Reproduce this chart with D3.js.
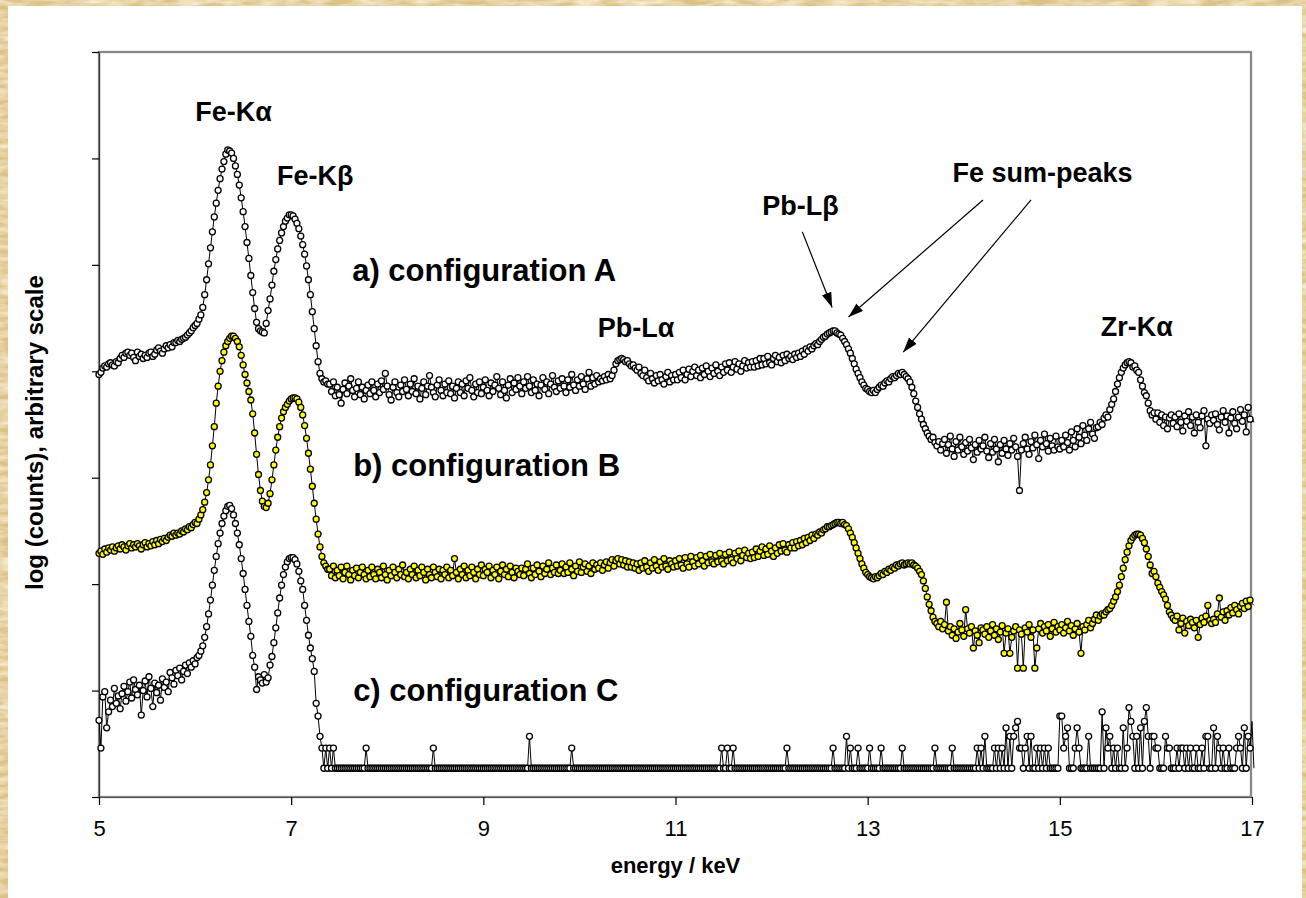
<!DOCTYPE html>
<html>
<head>
<meta charset="utf-8">
<script src="https://cdn.jsdelivr.net/npm/d3@7"></script>
<style>
  html, body { margin: 0; padding: 0; background: #e0c68c; }
  svg { display: block; }
  text { font-family: Arial, "Liberation Sans", sans-serif; }
</style>
</head>
<body>
<svg id="chart" width="1306" height="898"></svg>
<script>
// Channel calibration of the three spectra (keV)
const E_START = 5.0;
const E_STEP = 0.02;

// a) configuration A, log(counts) on an arbitrary offset scale
const seriesA = [
3.97,3.99,4.03,4.05,4.04,4.07,4.08,4.06,4.05,4.09,4.08,4.12,4.15,4.13,4.17,4.18,4.15,4.17,4.13,4.10,
4.18,4.14,4.16,4.12,4.15,4.13,4.17,4.18,4.14,4.16,4.20,4.22,4.19,4.17,4.21,4.24,4.22,4.25,4.23,4.27,
4.27,4.29,4.28,4.30,4.31,4.32,4.34,4.36,4.38,4.41,4.43,4.45,4.49,4.53,4.60,4.72,4.86,5.01,5.16,5.31,
5.45,5.58,5.70,5.81,5.90,5.97,6.04,6.08,6.07,6.05,6.00,5.93,5.85,5.75,5.63,5.50,5.36,5.21,5.06,4.90,
4.74,4.59,4.46,4.40,4.38,4.37,4.36,4.45,4.57,4.68,4.81,4.94,5.05,5.15,5.23,5.30,5.36,5.41,5.44,5.47,
5.47,5.46,5.43,5.39,5.34,5.27,5.19,5.10,4.99,4.86,4.72,4.56,4.40,4.24,4.09,3.98,3.93,3.90,3.91,3.88,
3.88,3.81,3.90,3.77,3.85,3.78,3.70,3.83,3.89,3.79,3.86,3.93,3.82,3.76,3.84,3.90,3.78,3.85,3.74,3.82,
3.87,3.79,3.90,3.82,3.76,3.88,3.80,3.91,3.83,3.98,3.86,3.78,3.73,3.85,3.90,3.80,3.76,3.87,3.81,3.92,
3.83,3.77,3.88,3.81,3.93,3.79,3.86,3.74,3.84,3.90,3.78,3.86,3.96,3.85,3.80,3.76,3.87,3.92,3.82,3.77,
3.88,3.80,3.91,3.79,3.86,3.75,3.84,3.90,3.80,3.88,3.77,3.91,3.84,3.94,3.82,3.76,3.88,3.80,3.90,3.79,
3.85,3.92,3.82,3.77,3.89,3.81,3.87,3.95,3.84,3.78,3.90,3.82,3.75,3.87,3.93,3.80,3.89,3.83,3.94,3.86,
3.79,3.90,3.84,3.95,3.86,3.80,3.92,3.82,3.88,3.77,3.87,3.94,3.83,3.90,3.79,3.88,3.96,3.85,3.81,3.91,
3.84,3.93,3.86,3.80,3.92,3.85,3.97,3.87,3.82,3.92,3.86,3.95,3.88,3.83,3.93,3.99,3.86,3.94,3.88,3.96,
3.90,3.93,3.91,3.95,3.92,3.97,3.93,3.96,4.01,4.07,4.10,4.11,4.12,4.11,4.09,4.10,4.07,4.05,4.06,4.03,
4.01,4.04,3.98,3.96,4.01,3.94,3.91,3.98,3.93,3.89,3.96,3.91,3.97,3.92,3.88,3.95,3.99,3.90,3.96,3.92,
3.97,3.92,3.99,3.94,4.01,3.92,3.97,4.02,3.95,4.00,4.04,3.96,4.01,3.94,4.03,3.97,4.05,4.00,3.95,4.03,
3.98,4.06,4.00,3.96,4.04,3.99,4.07,4.01,4.08,3.99,4.04,4.09,4.02,4.07,4.00,4.05,4.10,4.03,4.08,4.04,
4.09,4.04,4.10,4.05,4.12,4.06,4.12,4.07,4.14,4.08,4.06,4.12,4.15,4.09,4.13,4.08,4.15,4.10,4.16,4.12,
4.14,4.11,4.16,4.13,4.17,4.14,4.19,4.16,4.21,4.19,4.23,4.21,4.24,4.26,4.25,4.28,4.30,4.32,4.33,4.35,
4.36,4.37,4.38,4.38,4.36,4.35,4.34,4.31,4.28,4.25,4.21,4.17,4.12,4.07,4.02,3.98,3.94,3.90,3.87,3.84,
3.83,3.81,3.80,3.82,3.80,3.83,3.85,3.87,3.86,3.89,3.91,3.90,3.93,3.95,3.94,3.96,3.98,3.97,3.99,3.97,
3.95,3.93,3.90,3.85,3.79,3.72,3.66,3.60,3.55,3.50,3.46,3.42,3.39,3.36,3.38,3.33,3.30,3.34,3.26,3.32,
3.36,3.23,3.31,3.39,3.27,3.20,3.34,3.26,3.38,3.29,3.22,3.33,3.25,3.36,3.28,3.17,3.31,3.24,3.35,3.27,
3.30,3.38,3.25,3.19,3.32,3.24,3.36,3.27,3.15,3.31,3.23,3.35,3.27,3.21,3.32,3.26,3.37,3.29,3.20,2.88,
3.26,3.32,3.38,3.27,3.22,3.34,3.28,3.40,3.31,3.18,3.35,3.29,3.41,3.32,3.25,3.37,3.30,3.26,3.39,3.29,
3.27,3.35,3.29,3.40,3.33,3.26,3.43,3.35,3.29,3.46,3.38,3.32,3.49,3.40,3.35,3.46,3.52,3.41,3.37,3.47,
3.48,3.52,3.50,3.56,3.59,3.57,3.64,3.69,3.74,3.81,3.88,3.94,3.99,4.03,4.06,4.08,4.09,4.08,4.04,4.05,
4.01,3.99,3.92,3.86,3.80,3.77,3.70,3.63,3.59,3.61,3.55,3.61,3.52,3.59,3.49,3.57,3.46,3.56,3.59,3.51,
3.57,3.48,3.60,3.52,3.44,3.58,3.53,3.62,3.49,3.57,3.42,3.59,3.52,3.47,3.58,3.63,3.30,3.55,3.51,3.59,
3.54,3.60,3.50,3.45,3.57,3.63,3.52,3.58,3.42,3.56,3.62,3.51,3.46,3.57,3.64,3.53,3.59,3.43,3.66,3.55,
3.57,3.52
];

// b) configuration B
const seriesB = [
2.29,2.31,2.28,2.33,2.30,2.34,2.32,2.35,2.31,2.34,2.36,2.33,2.37,2.35,2.32,2.36,2.38,2.34,2.37,2.35,
2.38,2.36,2.33,2.37,2.39,2.35,2.38,2.36,2.40,2.37,2.41,2.38,2.42,2.40,2.43,2.41,2.44,2.46,2.45,2.48,
2.46,2.48,2.47,2.50,2.49,2.52,2.51,2.54,2.53,2.56,2.58,2.57,2.61,2.65,2.70,2.77,2.86,2.98,3.12,3.30,
3.48,3.70,3.86,4.00,4.10,4.18,4.24,4.28,4.31,4.33,4.33,4.31,4.28,4.23,4.15,4.06,3.97,3.89,3.81,3.73,
3.60,3.42,3.22,3.03,2.88,2.78,2.73,2.72,2.76,2.85,2.98,3.12,3.26,3.38,3.48,3.56,3.62,3.66,3.69,3.72,
3.74,3.75,3.75,3.74,3.71,3.66,3.59,3.49,3.37,3.23,3.08,2.92,2.76,2.61,2.47,2.35,2.26,2.20,2.17,2.14,
2.14,2.08,2.17,2.06,2.13,2.08,2.16,2.05,2.11,2.17,2.09,2.04,2.13,2.08,2.15,2.06,2.11,2.16,2.09,2.05,
2.13,2.07,2.16,2.09,2.05,2.14,2.11,2.06,2.17,2.09,2.04,2.13,2.08,2.16,2.11,2.06,2.14,2.09,2.18,2.07,
2.11,2.05,2.14,2.09,2.17,2.06,2.13,2.08,2.16,2.11,2.04,2.14,2.09,2.06,2.16,2.11,2.07,2.14,2.05,2.13,
2.09,2.16,2.06,2.13,2.08,2.24,2.11,2.05,2.14,2.09,2.17,2.06,2.13,2.08,2.16,2.11,2.05,2.14,2.09,2.18,
2.08,2.14,2.11,2.17,2.06,2.13,2.09,2.16,2.05,2.12,2.18,2.09,2.14,2.07,2.17,2.11,2.06,2.15,2.12,2.09,
2.15,2.08,2.14,2.19,2.10,2.06,2.15,2.09,2.18,2.12,2.07,2.17,2.10,2.14,2.20,2.09,2.15,2.11,2.18,2.10,
2.13,2.19,2.10,2.16,2.11,2.20,2.14,2.08,2.17,2.12,2.21,2.11,2.16,2.19,2.12,2.17,2.10,2.20,2.14,2.18,
2.15,2.20,2.13,2.18,2.21,2.15,2.20,2.23,2.17,2.22,2.24,2.19,2.23,2.18,2.22,2.16,2.21,2.16,2.20,2.15,
2.19,2.13,2.20,2.15,2.22,2.16,2.12,2.20,2.15,2.23,2.17,2.13,2.21,2.16,2.24,2.17,2.14,2.22,2.19,2.16,
2.22,2.17,2.24,2.18,2.15,2.25,2.19,2.16,2.26,2.21,2.17,2.25,2.19,2.27,2.22,2.17,2.26,2.20,2.28,2.21,
2.19,2.27,2.21,2.29,2.22,2.19,2.28,2.22,2.30,2.23,2.20,2.29,2.24,2.31,2.22,2.27,2.32,2.25,2.29,2.24,
2.30,2.25,2.33,2.26,2.31,2.35,2.27,2.33,2.28,2.36,2.31,2.26,2.34,2.29,2.37,2.31,2.38,2.32,2.30,2.37,
2.34,2.39,2.34,2.40,2.36,2.41,2.37,2.43,2.39,2.44,2.41,2.46,2.43,2.47,2.46,2.49,2.48,2.51,2.52,2.54,
2.54,2.55,2.56,2.57,2.58,2.58,2.57,2.58,2.56,2.55,2.52,2.48,2.44,2.39,2.34,2.29,2.24,2.19,2.15,2.11,
2.09,2.07,2.06,2.05,2.07,2.06,2.08,2.10,2.09,2.12,2.11,2.14,2.13,2.16,2.15,2.18,2.17,2.19,2.20,2.18,
2.19,2.20,2.19,2.20,2.18,2.17,2.15,2.12,2.09,2.03,1.96,1.88,1.81,1.75,1.69,1.65,1.63,1.60,1.65,1.58,
1.62,1.83,1.56,1.60,1.52,1.58,1.49,1.55,1.63,1.57,1.51,1.76,1.58,1.54,1.60,1.40,1.56,1.52,1.45,1.59,
1.57,1.53,1.60,1.50,1.56,1.62,1.52,1.58,1.48,1.55,1.61,1.35,1.54,1.58,1.35,1.50,1.56,1.60,1.21,1.57,
1.53,1.21,1.59,1.55,1.62,1.50,1.57,1.21,1.40,1.58,1.63,1.54,1.60,1.56,1.62,1.51,1.58,1.64,1.55,1.60,
1.57,1.62,1.54,1.59,1.65,1.56,1.61,1.52,1.58,1.63,1.55,1.35,1.60,1.57,1.62,1.66,1.59,1.63,1.67,1.71,
1.66,1.70,1.72,1.71,1.74,1.76,1.77,1.80,1.84,1.88,1.93,1.99,2.07,2.15,2.23,2.30,2.36,2.41,2.44,2.46,
2.47,2.47,2.46,2.43,2.39,2.33,2.26,2.18,2.10,2.12,2.07,2.01,1.97,1.93,1.90,1.86,1.80,1.74,1.71,1.68,
1.66,1.70,1.57,1.63,1.68,1.54,1.65,1.61,1.67,1.64,1.59,1.66,1.50,1.62,1.68,1.64,1.70,1.80,1.66,1.63,
1.67,1.64,1.72,1.87,1.69,1.74,1.66,1.75,1.71,1.78,1.73,1.80,1.76,1.72,1.79,1.82,1.77,1.84,1.79,1.85,
1.82,1.80
];

// c) configuration C
const seriesC = [
0.72,0.46,0.94,0.99,0.65,0.80,0.91,0.85,1.02,0.88,0.95,0.83,0.97,1.04,0.90,0.99,1.08,0.93,1.10,1.01,
0.96,1.05,0.77,1.00,1.09,0.94,1.13,1.02,0.85,1.07,0.98,1.05,0.91,1.11,1.03,1.08,0.99,1.17,1.12,1.06,
1.19,1.14,1.21,1.10,1.18,1.24,1.16,1.26,1.22,1.28,1.25,1.31,1.33,1.37,1.42,1.50,1.60,1.72,1.85,1.99,
2.13,2.26,2.38,2.48,2.57,2.64,2.69,2.73,2.74,2.71,2.65,2.57,2.48,2.37,2.24,2.10,1.95,1.80,1.65,1.51,
1.33,1.22,1.01,1.13,1.10,1.07,1.15,1.08,1.12,1.24,1.32,1.45,1.59,1.73,1.87,1.99,2.09,2.16,2.21,2.24,
2.25,2.25,2.23,2.19,2.12,2.03,1.95,1.80,1.66,1.52,1.40,1.30,1.18,0.88,0.76,0.57,0.46,0.27,0.46,0.27,
0.46,0.27,0.46,0.27,0.27,0.27,0.27,0.27,0.27,0.27,0.27,0.27,0.27,0.27,0.27,0.27,0.27,0.27,0.27,0.46,
0.27,0.27,0.27,0.27,0.27,0.27,0.27,0.27,0.27,0.27,0.27,0.27,0.27,0.27,0.27,0.27,0.27,0.27,0.27,0.27,
0.27,0.27,0.27,0.27,0.27,0.27,0.27,0.27,0.27,0.27,0.27,0.27,0.27,0.27,0.46,0.27,0.27,0.27,0.27,0.27,
0.27,0.27,0.27,0.27,0.27,0.27,0.27,0.27,0.27,0.27,0.27,0.27,0.27,0.27,0.27,0.27,0.27,0.27,0.27,0.27,
0.27,0.27,0.27,0.27,0.27,0.27,0.27,0.27,0.27,0.27,0.27,0.27,0.27,0.27,0.27,0.27,0.27,0.27,0.27,0.27,
0.27,0.27,0.27,0.27,0.57,0.27,0.27,0.27,0.27,0.27,0.27,0.27,0.27,0.27,0.27,0.27,0.27,0.27,0.27,0.27,
0.27,0.27,0.27,0.27,0.27,0.27,0.46,0.27,0.27,0.27,0.27,0.27,0.27,0.27,0.27,0.27,0.27,0.27,0.27,0.27,
0.27,0.27,0.27,0.27,0.27,0.27,0.27,0.27,0.27,0.27,0.27,0.27,0.27,0.27,0.27,0.27,0.27,0.27,0.27,0.27,
0.27,0.27,0.27,0.27,0.27,0.27,0.27,0.27,0.27,0.27,0.27,0.27,0.27,0.27,0.27,0.27,0.27,0.27,0.27,0.27,
0.27,0.27,0.27,0.27,0.27,0.27,0.27,0.27,0.27,0.27,0.27,0.27,0.27,0.27,0.27,0.27,0.27,0.27,0.27,0.27,
0.27,0.27,0.27,0.27,0.46,0.27,0.27,0.46,0.27,0.27,0.46,0.27,0.27,0.27,0.27,0.27,0.27,0.27,0.27,0.27,
0.27,0.27,0.27,0.27,0.27,0.27,0.27,0.27,0.27,0.27,0.27,0.27,0.27,0.27,0.27,0.27,0.27,0.27,0.46,0.27,
0.27,0.27,0.27,0.27,0.27,0.27,0.27,0.27,0.27,0.27,0.27,0.27,0.27,0.27,0.27,0.27,0.27,0.27,0.27,0.27,
0.27,0.27,0.46,0.27,0.27,0.27,0.27,0.27,0.27,0.57,0.27,0.46,0.27,0.27,0.27,0.46,0.27,0.27,0.27,0.27,
0.27,0.46,0.27,0.27,0.27,0.27,0.27,0.46,0.27,0.27,0.27,0.27,0.27,0.27,0.27,0.27,0.27,0.27,0.46,0.27,
0.27,0.27,0.27,0.27,0.27,0.27,0.27,0.27,0.27,0.27,0.27,0.27,0.27,0.27,0.27,0.46,0.27,0.27,0.27,0.27,
0.27,0.27,0.27,0.27,0.46,0.27,0.27,0.27,0.27,0.27,0.27,0.27,0.27,0.27,0.27,0.27,0.27,0.46,0.27,0.46,
0.27,0.57,0.27,0.27,0.27,0.27,0.46,0.27,0.46,0.27,0.46,0.27,0.65,0.27,0.57,0.27,0.57,0.65,0.71,0.46,
0.46,0.27,0.46,0.57,0.27,0.57,0.27,0.27,0.46,0.27,0.46,0.27,0.46,0.27,0.46,0.27,0.27,0.27,0.27,0.27,
0.76,0.76,0.46,0.57,0.65,0.27,0.27,0.27,0.46,0.65,0.46,0.27,0.27,0.27,0.27,0.57,0.27,0.27,0.27,0.27,
0.27,0.27,0.80,0.27,0.65,0.46,0.57,0.27,0.46,0.27,0.46,0.27,0.27,0.65,0.27,0.46,0.84,0.71,0.57,0.27,
0.57,0.27,0.65,0.27,0.71,0.84,0.57,0.27,0.57,0.57,0.46,0.46,0.27,0.27,0.27,0.57,0.46,0.46,0.27,0.27,
0.27,0.46,0.27,0.46,0.46,0.27,0.46,0.27,0.46,0.27,0.27,0.46,0.27,0.27,0.46,0.27,0.57,0.57,0.27,0.27,
0.65,0.27,0.57,0.46,0.27,0.46,0.27,0.27,0.46,0.27,0.27,0.27,0.46,0.57,0.46,0.27,0.65,0.27,0.57,0.46,
0.71,0.27
];

// Axis ticks and labels
const xTickValues = [5, 7, 9, 11, 13, 15, 17];
const yTickValues = [0, 1, 2, 3, 4, 5, 6, 7];
const xTitle = "energy / keV";
const yTitle = "log (counts), arbitrary scale";

// Peak labels and arrows, placed in data coordinates (keV, log units)
const peakLabels = [
  { text: "Fe-K\u03b1", e: 6.40, v: 6.35 },
  { text: "Fe-K\u03b2", e: 7.25, v: 5.755 },
  { text: "Pb-L\u03b1", e: 10.59, v: 4.32 },
  { text: "Pb-L\u03b2", e: 12.30, v: 5.47 },
  { text: "Fe sum-peaks", e: 14.82, v: 5.775 },
  { text: "Zr-K\u03b1", e: 15.80, v: 4.33 }
];
const configLabels = [
  { text: "a) configuration A", e: 7.635, v: 4.85 },
  { text: "b) configuration B", e: 7.645, v: 3.02 },
  { text: "c) configuration C", e: 7.645, v: 0.90 }
];
const arrows = [
  { from: [12.32, 5.31], to: [12.63, 4.60] },
  { from: [14.20, 5.61], to: [12.80, 4.51] },
  { from: [14.70, 5.61], to: [13.37, 4.18] }
];

const series = [
  { name: "A", values: seriesA, fill: "#ffffff" },
  { name: "B", values: seriesB, fill: "#ffff00" },
  { name: "C", values: seriesC, fill: "#ffffff" }
];

// ---------------------------------------------------------------
const W = 1306, H = 898;
const plot = { left: 99, right: 1251, top: 52, bottom: 797 };

const svg = d3.select("#chart");
const defs = svg.append("defs");

// parchment-like surround
const parch = defs.append("filter").attr("id", "parch")
  .attr("x", 0).attr("y", 0).attr("width", "100%").attr("height", "100%");
parch.append("feTurbulence").attr("type", "fractalNoise")
  .attr("baseFrequency", "0.04 0.18").attr("numOctaves", 3).attr("seed", 7);
parch.append("feColorMatrix").attr("type", "matrix")
  .attr("values", "0 0 0 0 0.96  0 0 0 0 0.88  0 0 0 0 0.68  0 0 0 -1.6 1.15");

svg.append("rect").attr("width", W).attr("height", H).attr("fill", "#dcc186");
svg.append("rect").attr("width", W).attr("height", H).attr("filter", "url(#parch)");
svg.append("rect").attr("x", 8).attr("y", 6).attr("width", 1294).attr("height", H)
  .attr("fill", "#ffffff");

const x = d3.scaleLinear().domain([5, 17]).range([99, 1252]);
const y = d3.scaleLinear().domain([0, 7]).range([plot.bottom, plot.top]);

// plot-area frame
svg.append("rect")
  .attr("x", plot.left).attr("y", plot.top)
  .attr("width", plot.right - plot.left).attr("height", plot.bottom - plot.top)
  .attr("fill", "none").attr("stroke", "#888888").attr("stroke-width", 2.3);

// axes
const xAxis = d3.axisBottom(x).tickValues(xTickValues).tickFormat(d3.format("d"))
  .tickSize(8).tickSizeOuter(0).tickPadding(15);
const gx = svg.append("g").attr("transform", `translate(0,${plot.bottom})`).call(xAxis);
gx.select(".domain").attr("stroke", "#555").attr("stroke-width", 1);
gx.selectAll(".tick line").attr("stroke", "#000").attr("stroke-width", 1.2);
gx.selectAll(".tick text").attr("font-size", 22).attr("fill", "#000")
  .style("font-family", "Arial, 'Liberation Sans', sans-serif");

const yAxis = d3.axisLeft(y).tickValues(yTickValues).tickFormat("").tickSize(7).tickSizeOuter(0);
const gy = svg.append("g").attr("transform", `translate(${plot.left},0)`).call(yAxis);
gy.select(".domain").attr("stroke", "#333").attr("stroke-width", 1.2);
gy.selectAll(".tick line").attr("stroke", "#000").attr("stroke-width", 1.2);

// axis titles
svg.append("text")
  .attr("x", (plot.left + 1252) / 2).attr("y", 873)
  .attr("text-anchor", "middle").attr("font-size", 22).attr("font-weight", "bold")
  .text(xTitle);

svg.append("text")
  .attr("transform", "translate(43,590) rotate(-90)")
  .attr("text-anchor", "start").attr("font-size", 24).attr("font-weight", "bold")
  .text(yTitle);

// spectra
defs.append("clipPath").attr("id", "lineClip").append("rect")
  .attr("x", 0).attr("y", 0).attr("width", 1256).attr("height", H);

const energyAt = i => E_START + i * E_STEP;
const line = d3.line().x((d, i) => x(energyAt(i))).y(d => y(d));

series.forEach(s => {
  const g = svg.append("g").attr("class", "series-" + s.name);
  g.append("path")
    .attr("d", line(s.values))
    .attr("clip-path", "url(#lineClip)")
    .attr("fill", "none").attr("stroke", "#000").attr("stroke-width", 1);
  const pts = s.values.map((v, i) => ({ e: energyAt(i), v }))
    .filter(p => p.e < 17 - 1e-9);
  g.selectAll("circle").data(pts).join("circle")
    .attr("cx", p => x(p.e)).attr("cy", p => y(p.v)).attr("r", 3.0)
    .attr("fill", s.fill).attr("stroke", "#000").attr("stroke-width", 1.3);
});

// annotations
defs.append("marker").attr("id", "head")
  .attr("viewBox", "0 0 15 10").attr("refX", 15).attr("refY", 5)
  .attr("markerWidth", 15).attr("markerHeight", 10)
  .attr("markerUnits", "userSpaceOnUse").attr("orient", "auto")
  .append("path").attr("d", "M0,0 L15,5 L0,10 Z").attr("fill", "#000");

svg.append("g").selectAll("line").data(arrows).join("line")
  .attr("x1", d => x(d.from[0])).attr("y1", d => y(d.from[1]))
  .attr("x2", d => x(d.to[0])).attr("y2", d => y(d.to[1]))
  .attr("stroke", "#000").attr("stroke-width", 1.2)
  .attr("marker-end", "url(#head)");

svg.append("g").selectAll("text").data(peakLabels).join("text")
  .attr("x", d => x(d.e)).attr("y", d => y(d.v))
  .attr("text-anchor", "middle").attr("font-size", 27).attr("font-weight", "bold")
  .text(d => d.text);

svg.append("g").selectAll("text").data(configLabels).join("text")
  .attr("x", d => x(d.e)).attr("y", d => y(d.v))
  .attr("text-anchor", "start").attr("font-size", 31).attr("font-weight", "bold")
  .text(d => d.text);
</script>
</body>
</html>
